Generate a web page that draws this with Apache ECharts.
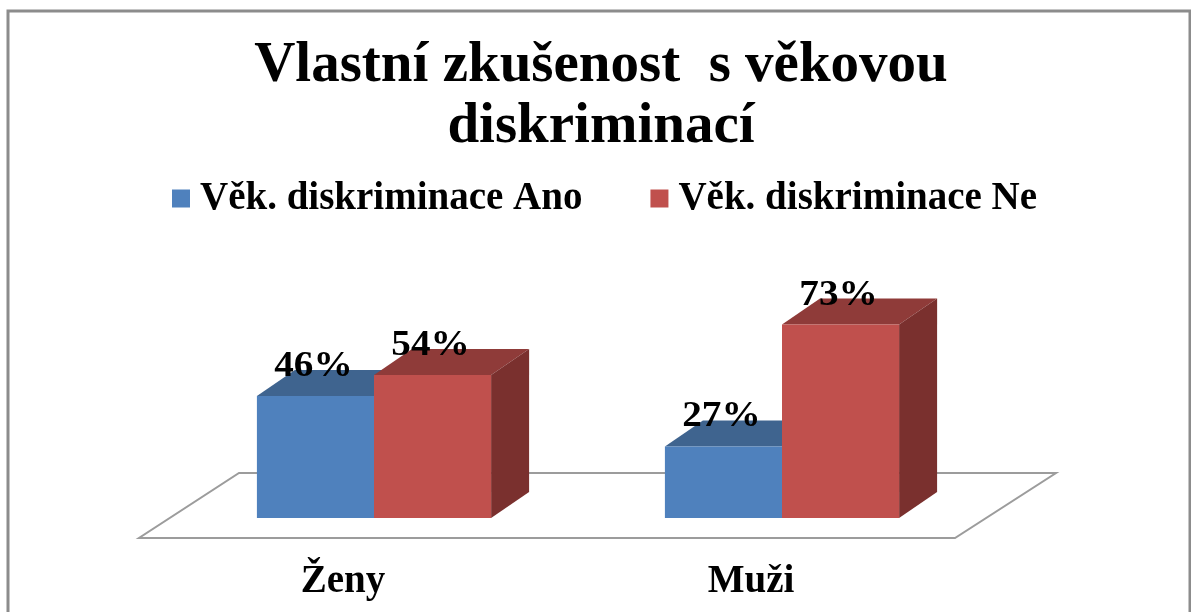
<!DOCTYPE html>
<html>
<head>
<meta charset="utf-8">
<style>
html, body { margin: 0; padding: 0; background: #fff; }
#chart { width: 1191px; height: 612px; }
</style>
<script src="https://cdn.jsdelivr.net/npm/echarts@6/dist/echarts.min.js"></script>
</head>
<body>
<div id="chart"></div>
<script>
var categories = ['Ženy', 'Muži'];
var seriesAno = [46, 27];
var seriesNe = [54, 73];
var nameAno = 'Věk. diskriminace Ano';
var nameNe = 'Věk. diskriminace Ne';
var titleLines = 'Vlastní zkušenost  s věkovou\ndiskriminací';

var fontName = '"Liberation Serif", serif';
var depthX = 38;
var depthY = 26;
var barBand = 0.287;

// one 3d column: top, side, front and the label above it
function renderColumn(params, api, colors, dir) {
    var bandW = api.size([1, 0])[0];
    var barW = bandW * barBand;
    var base = api.coord([api.value(0), 0]);
    var top = api.coord([api.value(0), api.value(1)]);
    var x0 = dir < 0 ? base[0] - barW : base[0];
    var x1 = x0 + barW;
    return {
        type: 'group',
        children: [
            {
                type: 'polygon',
                shape: { points: [[x0, top[1]], [x1, top[1]], [x1 + depthX, top[1] - depthY], [x0 + depthX, top[1] - depthY]] },
                style: { fill: colors.top }
            },
            {
                type: 'polygon',
                shape: { points: [[x1, top[1]], [x1 + depthX, top[1] - depthY], [x1 + depthX, base[1] - depthY], [x1, base[1]]] },
                style: { fill: colors.side }
            },
            {
                type: 'rect',
                shape: { x: x0, y: top[1], width: barW, height: base[1] - top[1] },
                style: { fill: colors.front }
            },
            {
                type: 'text',
                x: x0 + barW / 2 - 2,
                y: top[1] - 29,
                scaleX: 1.12,
                style: {
                    text: api.value(1) + '%',
                    font: 'bold 35px ' + fontName,
                    fill: '#000',
                    align: 'center',
                    verticalAlign: 'middle'
                }
            }
        ]
    };
}

// floor under the columns, follows the grid
function renderFloor(params) {
    var g = params.coordSys;
    var bottom = g.y + g.height;
    return {
        type: 'polygon',
        shape: {
            points: [
                [g.x - 31, bottom + 20],
                [g.x + g.width - 31, bottom + 20],
                [g.x + g.width + 70, bottom - 45],
                [g.x + 69, bottom - 45]
            ]
        },
        style: { fill: '#fff', stroke: '#9c9c9c', lineWidth: 2 }
    };
}

var option = {
    backgroundColor: '#fff',
    animation: false,
    title: {
        text: titleLines,
        left: 596,
        top: 31,
        textAlign: 'center',
        textStyle: {
            fontFamily: fontName,
            fontWeight: 'bold',
            fontSize: 57,
            lineHeight: 61,
            color: '#000'
        }
    },
    legend: {
        data: [nameAno, nameNe],
        left: 167,
        top: 174,
        icon: 'rect',
        itemWidth: 18,
        itemHeight: 18,
        itemGap: 68,
        textStyle: {
            fontFamily: fontName,
            fontWeight: 'bold',
            fontSize: 39,
            color: '#000',
            padding: [0, 0, 0, 5]
        }
    },
    grid: { left: 170, top: 253, width: 816, height: 265 },
    xAxis: {
        type: 'category',
        data: categories,
        axisLine: { show: false },
        axisTick: { show: false },
        axisLabel: {
            margin: 44,
            padding: [0, 62, 0, 0],
            fontFamily: fontName,
            fontWeight: 'bold',
            fontSize: 39,
            color: '#000'
        }
    },
    yAxis: {
        type: 'value',
        min: 0,
        max: 100,
        show: false,
        splitLine: { show: false }
    },
    series: [
        {
            type: 'custom',
            name: 'floor',
            silent: true,
            z: 1,
            renderItem: renderFloor,
            data: [[0, 0]]
        },
        {
            type: 'custom',
            name: nameAno,
            z: 2,
            itemStyle: { color: '#4f81bd' },
            renderItem: function (params, api) {
                return renderColumn(params, api, { front: '#4f81bd', top: '#3f648f', side: '#3a5c85' }, -1);
            },
            encode: { x: 0, y: 1 },
            data: seriesAno.map(function (v, i) { return [i, v]; })
        },
        {
            type: 'custom',
            name: nameNe,
            z: 3,
            itemStyle: { color: '#c0504d' },
            renderItem: function (params, api) {
                return renderColumn(params, api, { front: '#c0504d', top: '#8f3b39', side: '#7a302e' }, 1);
            },
            encode: { x: 0, y: 1 },
            data: seriesNe.map(function (v, i) { return [i, v]; })
        }
    ],
    graphic: [
        {
            type: 'rect',
            silent: true,
            z: -10,
            shape: { x: 8, y: 11, width: 1182, height: 620 },
            style: { fill: 'none', stroke: '#8c8c8c', lineWidth: 3 }
        }
    ]
};

var chart = echarts.init(document.getElementById('chart'));
chart.setOption(option, true);
window.addEventListener('resize', function () {
    chart.resize();
});
</script>
</body>
</html>
